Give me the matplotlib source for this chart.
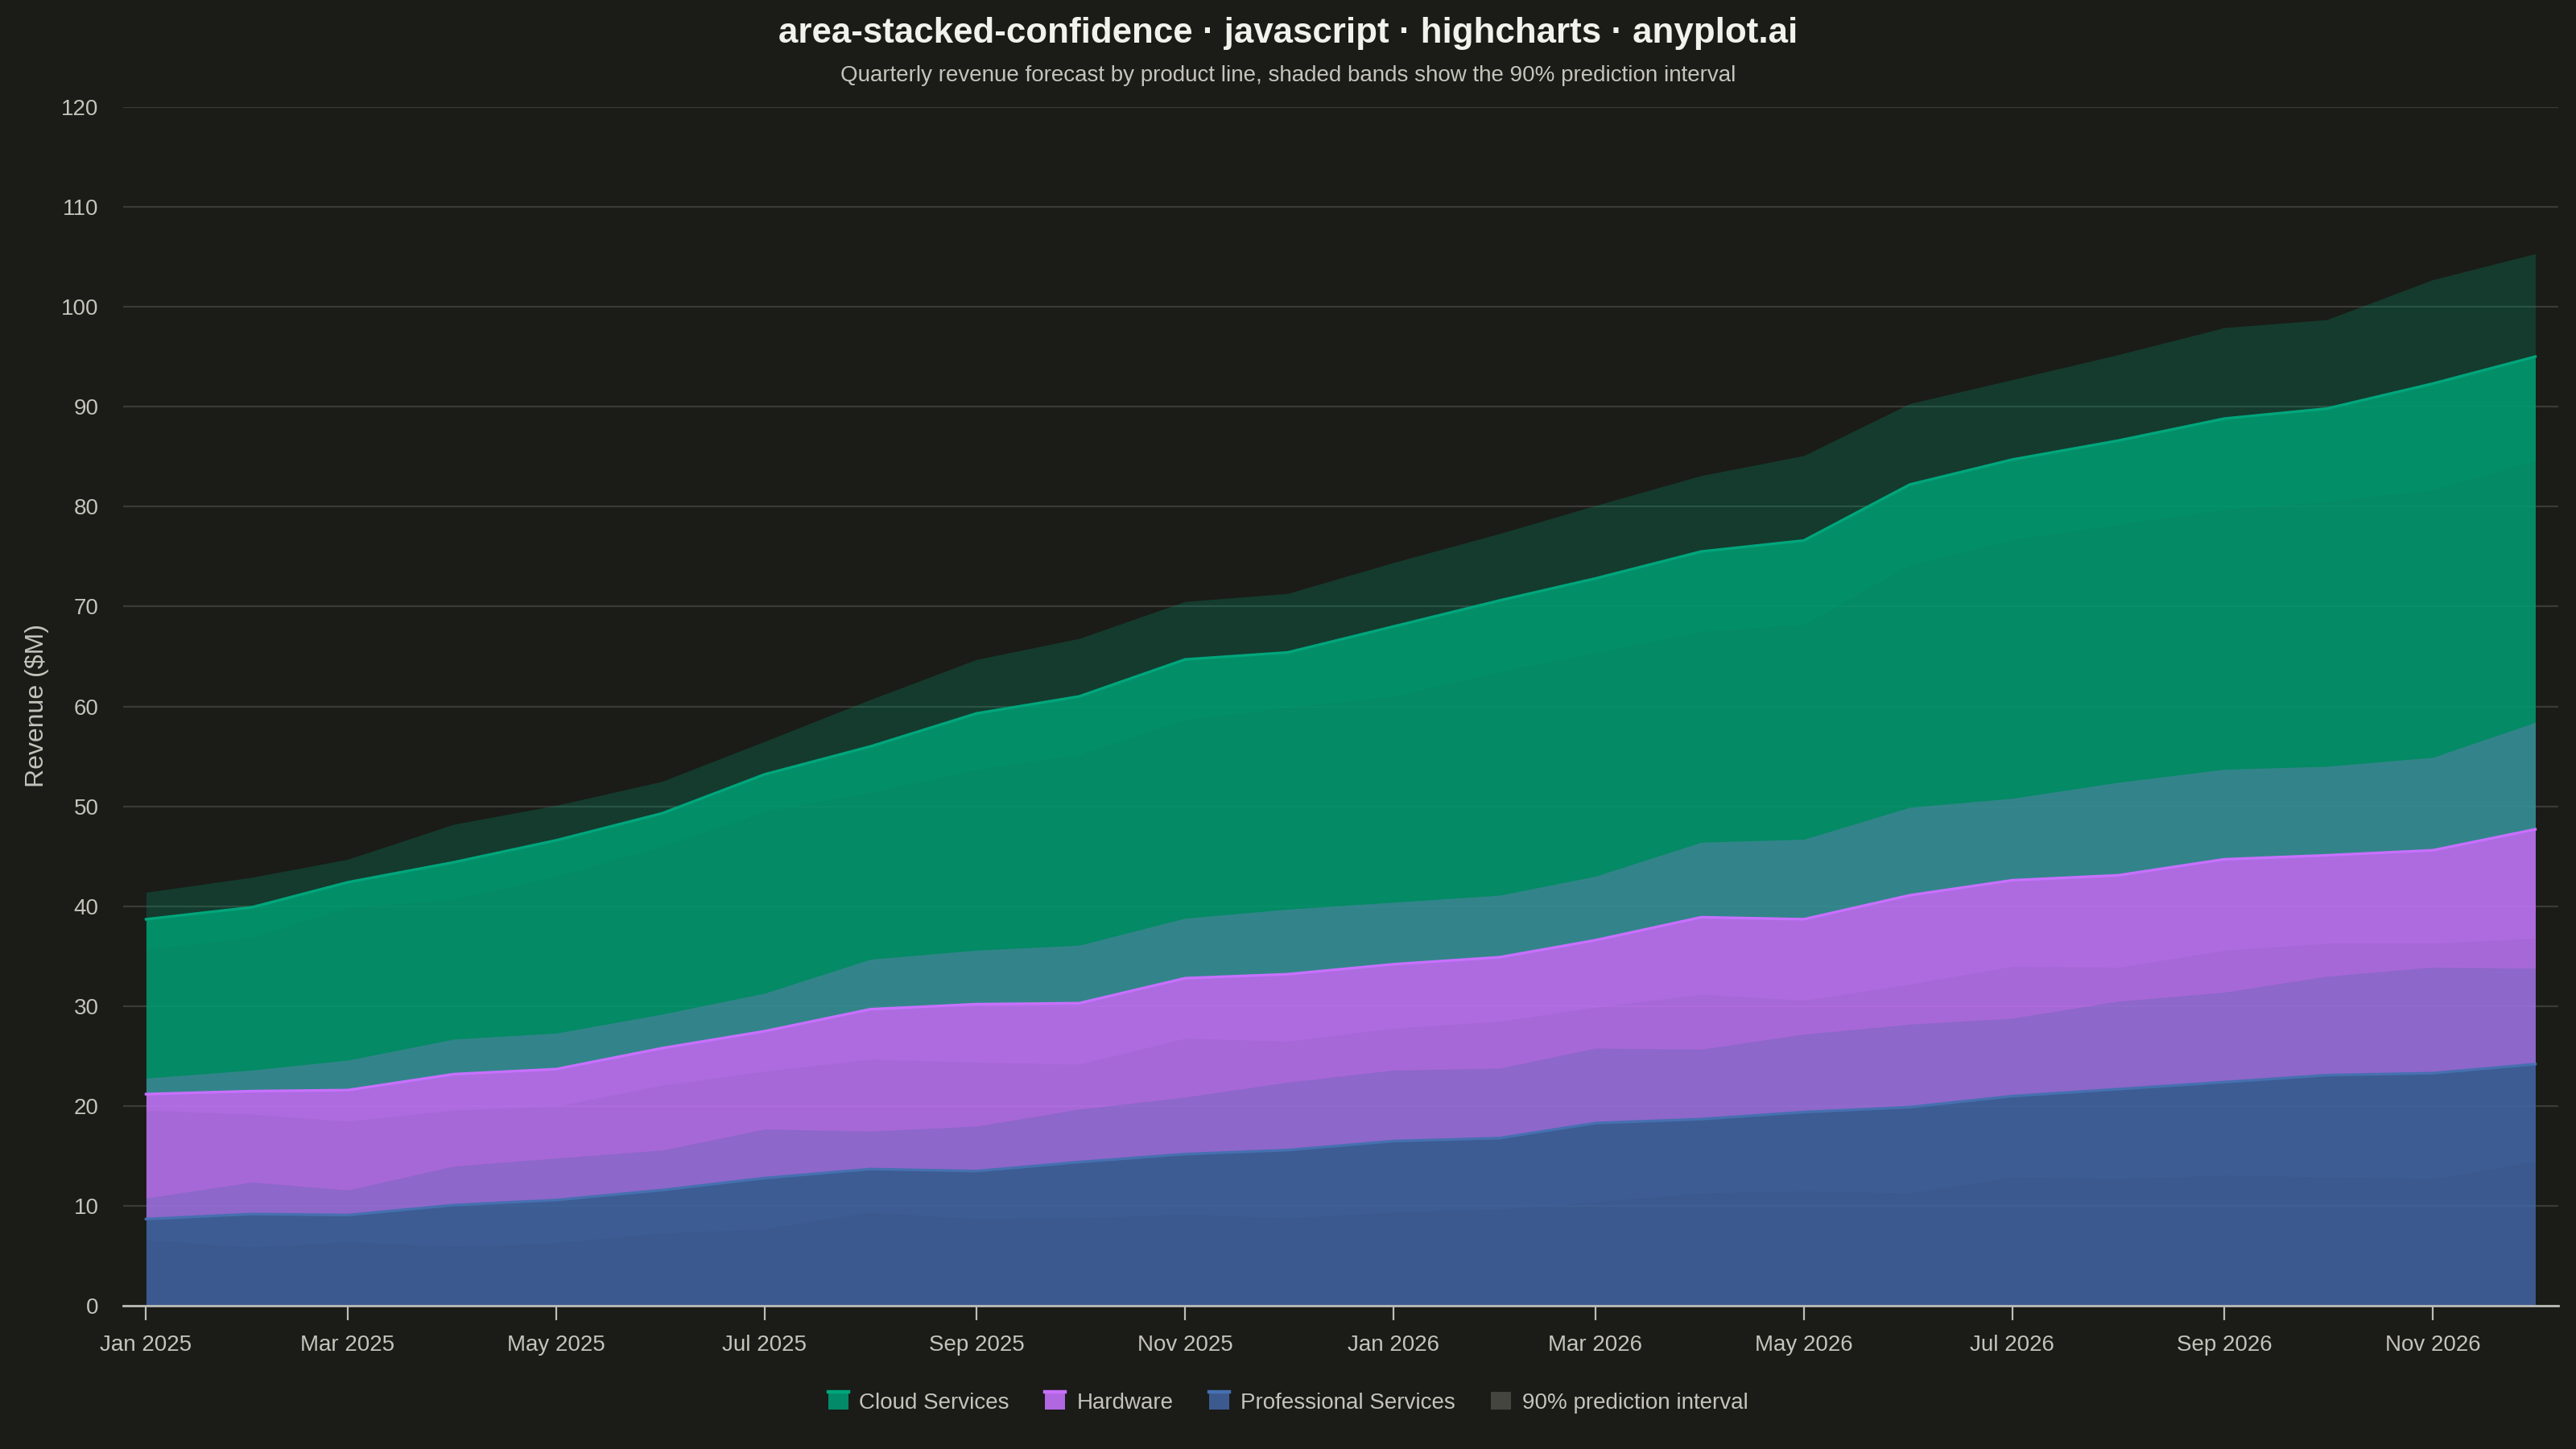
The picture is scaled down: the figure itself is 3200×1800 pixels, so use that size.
import matplotlib
matplotlib.use("Agg")
import matplotlib.pyplot as plt
import matplotlib.dates as mdates
import numpy as np
from datetime import datetime
from matplotlib.patches import Patch, Rectangle
from matplotlib.lines import Line2D
from matplotlib.legend_handler import HandlerBase

# monthly forecast, Jan 2025 .. Dec 2026
months = [datetime(2025 + i // 12, i % 12 + 1, 1) for i in range(24)]

# series values ($M) and 90% interval bounds per series
prof = [8.7, 9.2, 9.1, 10.1, 10.6, 11.6, 12.8, 13.7, 13.5, 14.4, 15.2, 15.6,
        16.5, 16.8, 18.3, 18.7, 19.4, 19.9, 21.0, 21.7, 22.4, 23.1, 23.3, 24.2]
prof_lo = [6.6, 5.9, 6.4, 6.0, 6.3, 7.3, 7.7, 9.4, 8.7, 8.8, 9.2, 8.8,
           9.4, 9.7, 10.4, 11.3, 11.5, 11.3, 12.9, 12.7, 13.1, 12.9, 12.7, 14.5]
prof_hi = [10.8, 12.4, 11.6, 14.0, 14.8, 15.6, 17.7, 17.5, 18.0, 19.7, 20.9, 22.4,
           23.6, 23.8, 25.8, 25.7, 27.2, 28.2, 28.8, 30.5, 31.4, 33.0, 33.9, 33.8]

hardware = [12.5, 12.3, 12.5, 13.1, 13.1, 14.2, 14.7, 16.0, 16.7, 15.9, 17.6, 17.6,
            17.7, 18.1, 18.3, 20.2, 19.3, 21.2, 21.6, 21.4, 22.3, 22.0, 22.3, 23.5]
hardware_lo = [10.9, 10.0, 9.4, 9.5, 9.4, 10.5, 10.7, 11.0, 10.9, 9.8, 11.6, 10.9,
               11.3, 11.7, 11.6, 12.5, 11.2, 12.3, 13.0, 12.2, 13.2, 13.2, 13.0, 12.6]
hardware_hi = [14.1, 14.4, 15.5, 16.6, 16.7, 17.6, 18.5, 21.0, 22.1, 21.7, 23.6, 24.1,
               23.9, 24.3, 24.7, 27.7, 27.3, 30.0, 29.8, 30.7, 31.3, 30.9, 31.6, 34.2]

cloud = [17.5, 18.4, 20.8, 21.2, 22.9, 23.5, 25.7, 26.3, 29.1, 30.7, 31.9, 32.2,
         33.8, 35.7, 36.2, 36.6, 37.9, 41.1, 42.1, 43.5, 44.1, 44.7, 46.7, 47.3]
cloud_lo = [14.5, 15.4, 18.3, 17.5, 19.3, 20.2, 22.0, 21.7, 23.5, 24.9, 25.9, 26.7,
            26.8, 28.6, 28.8, 28.6, 29.5, 33.1, 34.1, 35.1, 35.0, 35.4, 36.1, 36.9]
cloud_hi = [20.2, 21.4, 23.1, 25.0, 26.4, 26.7, 29.0, 31.0, 34.5, 36.5, 37.7, 38.1,
            40.2, 42.4, 43.5, 44.2, 46.4, 49.2, 50.1, 52.1, 53.2, 53.6, 57.1, 57.6]

BG = "#1b1b17"
TXT = "#c4c4bc"
C_CLOUD = "#009e73"
C_HW = "#c176fa"
C_PS = "#4165a4"


class AreaSymbol(HandlerBase):
    # filled box with a thin line along its top, like the highcharts area symbol
    def create_artists(self, legend, orig, xd, yd, w, h, fontsize, trans):
        fc = orig.get_facecolor()
        lc = orig.get_edgecolor()
        box = Rectangle((-xd, -yd), w, h, facecolor=fc, edgecolor="none", transform=trans)
        arts = [box]
        if orig.get_linewidth() > 0:
            arts.append(Line2D([-xd, -xd + w], [-yd + h, -yd + h], color=lc,
                               lw=1.6, transform=trans))
        return arts


plt.rcParams["font.family"] = ["Liberation Sans", "DejaVu Sans"]

fig = plt.figure(figsize=(16, 9), dpi=200, facecolor=BG)
ax = fig.add_axes([0.0478, 0.0987, 0.9453, 0.8276])
ax.set_facecolor(BG)

x = mdates.date2num(months)
p = np.array(prof)
h = np.array(hardware)
c = np.array(cloud)
top_p = p
top_h = p + h
top_c = p + h + c

# stacked areas
ax.fill_between(x, 0, top_p, color=C_PS, alpha=0.85, lw=0, zorder=1)
ax.fill_between(x, top_p, top_h, color=C_HW, alpha=0.85, lw=0, zorder=1)
ax.fill_between(x, top_h, top_c, color=C_CLOUD, alpha=0.85, lw=0, zorder=1)

# prediction bands around each stacked line
ax.fill_between(x, prof_lo, prof_hi, color=C_PS, alpha=0.25, lw=0, zorder=2)
ax.fill_between(x, top_p + np.array(hardware_lo), top_p + np.array(hardware_hi),
                color=C_HW, alpha=0.25, lw=0, zorder=2)
ax.fill_between(x, top_h + np.array(cloud_lo), top_h + np.array(cloud_hi),
                color=C_CLOUD, alpha=0.25, lw=0, zorder=2)

ax.plot(x, top_p, color="#4670b0", lw=1.2, zorder=3)
ax.plot(x, top_h, color="#c870ff", lw=1.2, zorder=3)
ax.plot(x, top_c, color="#00a67c", lw=1.2, zorder=3)

pad = 6.7
ax.set_xlim(x[0] - pad, x[-1] + pad)
ax.set_ylim(0, 120)
ax.set_yticks(np.arange(0, 121, 10))
ax.grid(axis="y", color="#3a3a36", lw=0.8, zorder=0)
ax.set_axisbelow(True)

ax.xaxis.set_major_locator(mdates.MonthLocator(bymonth=[1, 3, 5, 7, 9, 11]))
ax.xaxis.set_major_formatter(mdates.DateFormatter("%b %Y"))

for s in ["top", "right", "left"]:
    ax.spines[s].set_visible(False)
ax.spines["bottom"].set_color("#bdbdb8")
ax.spines["bottom"].set_linewidth(1.0)
ax.tick_params(axis="x", colors="#bdbdb8", length=6.5, width=0.8, pad=6.2,
               labelsize=10, labelcolor=TXT)
ax.tick_params(axis="y", length=0, pad=11, labelsize=10, labelcolor=TXT)

fig.text(0.5, 0.977, "area-stacked-confidence · javascript · highcharts · anyplot.ai",
         ha="center", va="center", fontsize=15.8, fontweight="bold", color="#f2f2ec")
fig.text(0.5, 0.948, "Quarterly revenue forecast by product line, shaded bands show the "
         "90% prediction interval", ha="center", va="center", fontsize=10, color=TXT)
fig.text(0.0145, 0.513, "Revenue ($M)", rotation=90, ha="center", va="center",
         fontsize=11.5, color=TXT)

handles = [Patch(facecolor="#038a68", edgecolor="#00a67c", lw=1, label="Cloud Services"),
           Patch(facecolor="#b067e0", edgecolor="#c870ff", lw=1, label="Hardware"),
           Patch(facecolor="#3d5a8e", edgecolor="#4670b0", lw=1, label="Professional Services"),
           Patch(facecolor="#45453f", edgecolor="none", lw=0, label="90% prediction interval")]
leg = fig.legend(handles=handles, loc="center", bbox_to_anchor=(0.5, 0.032), ncol=4,
                 frameon=False, fontsize=10, handlelength=0.9, handleheight=0.8,
                 handletextpad=0.5, columnspacing=1.6,
                 handler_map={Patch: AreaSymbol()})
for t in leg.get_texts():
    t.set_color(TXT)

fig.savefig("out.png", dpi=200, facecolor=BG)
